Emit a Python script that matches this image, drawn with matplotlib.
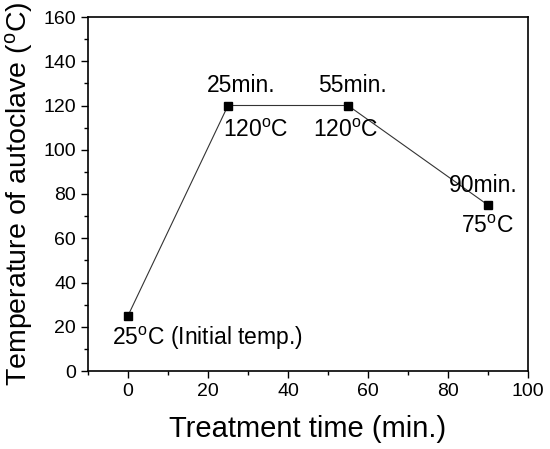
import matplotlib
matplotlib.use("Agg")
import matplotlib.pyplot as plt
from matplotlib.ticker import MultipleLocator

plt.rcParams['font.family'] = ['Liberation Sans', 'DejaVu Sans']
plt.rcParams['mathtext.fontset'] = 'custom'
plt.rcParams['mathtext.rm'] = 'Liberation Sans'
plt.rcParams['mathtext.it'] = 'Liberation Sans'

time_min = [0, 25, 55, 90]
temp_c = [25, 120, 120, 75]

fig = plt.figure(figsize=(5.5, 4.49), dpi=100)
ax = fig.add_axes([88/550, 1-371/449, 440/550, 354/449])
ax.plot(time_min, temp_c, color='#333333', lw=0.8, marker='s', ms=5.5,
        mfc='black', mec='black')
ax.set_xlim(-10, 100)
ax.set_ylim(0, 160)
ax.xaxis.set_major_locator(MultipleLocator(20))
ax.xaxis.set_minor_locator(MultipleLocator(10))
ax.yaxis.set_major_locator(MultipleLocator(20))
ax.yaxis.set_minor_locator(MultipleLocator(10))
ax.tick_params(which='major', direction='out', length=5, width=1, labelsize=14)
ax.tick_params(which='minor', direction='out', length=3, width=1)
for s in ax.spines.values():
    s.set_linewidth(1.2)
ax.set_xlabel('Treatment time (min.)', fontsize=21, labelpad=11)
ax.set_ylabel('Temperature of autoclave ($^{\\mathrm{o}}$C)', fontsize=20.5, labelpad=6)

fs = 16.5
deg = '$^{\\mathrm{o}}$C'
ax.text(19.75, 126, '25min.', fontsize=fs, ha='left', va='baseline')
ax.text(23.75, 114, '120' + deg, fontsize=fs, ha='left', va='top')
ax.text(47.5, 126, '55min.', fontsize=fs, ha='left', va='baseline')
ax.text(46.25, 114, '120' + deg, fontsize=fs, ha='left', va='top')
ax.text(80.25, 81, '90min.', fontsize=fs, ha='left', va='baseline')
ax.text(83.25, 70.5, '75' + deg, fontsize=fs, ha='left', va='top')
ax.text(-4, 20.8, '25' + deg + ' (Initial temp.)', fontsize=fs, ha='left', va='top')

fig.savefig('out.png', dpi=100)
